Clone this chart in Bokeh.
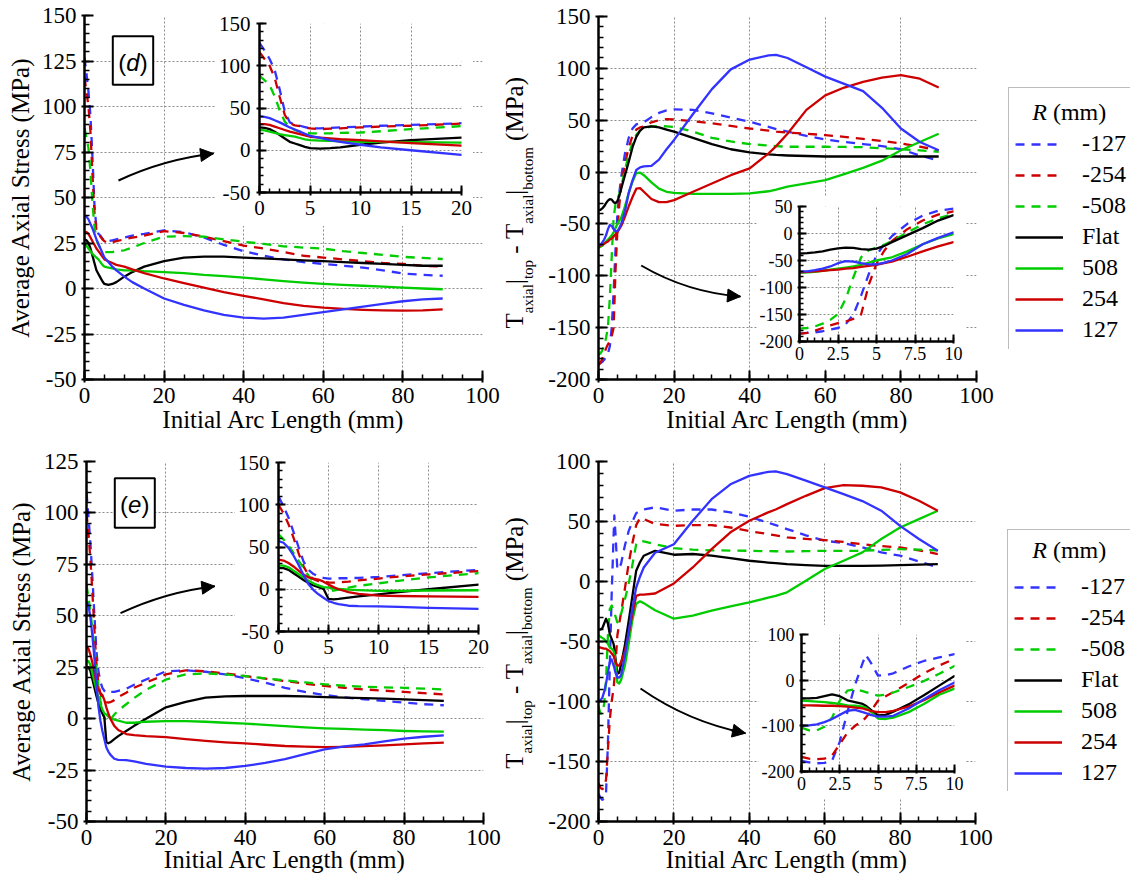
import math
from bokeh.plotting import figure
from bokeh.models import (Range1d, SingleIntervalTicker, CustomJSTickFormatter, Label,
                          BoxAnnotation, Arrow, NormalHead, Legend, LegendItem)
from bokeh.embed import file_html
from bokeh.resources import INLINE

# ---------------------------------------------------------------- data
SERIES = ["-127", "-254", "-508", "Flat", "508", "254", "127"]

# (d) average axial stress
X_D = [0, 0.5, 1, 1.5, 2, 2.5, 3, 3.5, 4, 4.5, 5, 6, 7, 8, 10, 12, 15, 20, 25, 30, 35, 40,
       45, 50, 55, 60, 65, 70, 75, 80, 85, 90]
D_M127 = [127, 118, 108, 95, 72, 46, 33, 30, 29, 27.5, 26, 26, 26.5, 27, 28, 29, 30, 32, 31, 28,
          24, 20.5, 18, 16, 14.5, 13.5, 12.5, 11.5, 10, 8.2, 7.5, 7]
D_M254 = [116, 108, 100, 86, 63, 42, 32, 29.5, 28.5, 27, 26, 25, 25.5, 26, 27, 28, 29, 31.5, 30.5,
          28.5, 26, 23.5, 22, 20, 18, 17, 16, 15, 14, 13.5, 12.5, 12]
D_M508 = [88, 83, 77, 64, 47, 34, 27, 24, 22, 21, 20, 20, 20, 20.5, 21, 22.5, 25, 28.5, 28.8, 28.5,
          27, 25.7, 24.5, 23.2, 22.5, 21.9, 20.5, 19.5, 18.5, 17.4, 16.8, 16.2]
D_FLAT = [27, 26.5, 25, 22, 18, 14, 10, 8, 6, 4, 2.5, 2, 2.5, 3.5, 6.5, 9, 12, 15, 17, 17.5, 17.5,
          17, 16.5, 16, 15.5, 15, 14.5, 14, 13.5, 13, 12.5, 12.5]
D_P508 = [24, 23.5, 22, 20.5, 19, 18, 17, 16, 14.5, 13, 12, 11.5, 11, 10.5, 10, 10, 9.5, 9, 8.5,
          7.5, 6.8, 6, 5, 4, 3.2, 2.5, 2, 1.5, 1, 0.5, 0, -0.4]
D_P254 = [31, 31, 30, 28, 26, 24, 22, 20.5, 19, 17.5, 16, 15, 14, 13, 12, 10.5, 8.5, 5.5, 3, 0.5,
          -2, -4, -6, -8, -9.5, -10.5, -11.2, -11.7, -12, -12.2, -12, -11.5]
D_P127 = [40, 39.5, 38, 35.5, 33, 30, 27, 24.5, 22, 19.5, 17, 14.5, 12, 10, 6.5, 3.5, 0, -5.5, -9,
          -12, -14.5, -16, -16.5, -16, -14.5, -13, -11.5, -10, -8.5, -7, -6, -5.5]

# (d) top-bottom difference
X_DR = [0, 0.5, 1, 1.5, 2, 2.5, 3, 3.5, 4, 4.5, 5, 5.5, 6, 7, 8, 9, 10, 11, 12, 14, 16, 18, 20,
        25, 30, 35, 40, 45, 47, 50, 55, 60, 65, 70, 75, 80, 85, 90]
DR_M127 = [-185, -184, -183, -181, -178, -175, -168, -150, -115, -75, -40, -20, -5, 18, 33, 42, 46,
           47, 48, 53, 57, 59.5, 60.5, 60, 56.5, 52.5, 48.5, 43.5, 41.5, 39, 35, 31.5, 29, 27,
           25, 22, 16, 11]
DR_M254 = [-186, -184, -180, -175, -170, -166, -163, -158, -150, -95, -56, -32, -14, 8, 24, 35, 41,
           43, 44, 48, 50, 51, 50.7, 49, 47, 44.5, 42, 40, 39, 38, 37, 35.6, 34, 32, 30, 27.6,
           24.5, 21]
DR_M508 = [-176, -175, -172, -167, -160, -149, -121, -81, -44, -31, -26, -21, -14, 2, 17, 28, 36,
           40, 42, 44, 44.5, 44, 43.6, 39, 33, 29.5, 27, 25.5, 25, 24.4, 24.4, 24.4, 24.2, 24, 23,
           22, 21, 19.6]
DR_FLAT = [-37, -36.5, -35, -33, -30, -27.5, -26, -26.5, -29, -30, -28, -23, -16, -3, 10, 24, 34,
           40, 43, 44, 43, 41, 39, 33, 27, 22, 19, 17, 16.5, 16, 15.5, 15, 15, 15, 15, 15, 15, 15]
DR_P508 = [-73, -72, -71, -69, -67, -65, -63, -61, -58, -54, -50, -47, -44, -33, -20, -9, -1, -0.5,
           -3, -10, -16, -19, -20, -21, -21, -21, -20.5, -18.5, -17, -14, -11, -7.7, -2, 4, 11,
           21, 29, 37]
DR_P254 = [-72, -71, -70, -69, -68, -67, -65, -64, -62, -60, -58, -55, -52, -43, -33, -24, -16,
           -15.5, -19, -26, -29, -29, -27, -19, -11, -3, 3.5, 18, 25, 37, 60, 74, 81.5, 87, 91,
           93.5, 90, 81.5]
DR_P127 = [-70, -70, -68, -65, -61, -55, -51, -52, -55, -57, -57, -54, -50, -38, -20, -8, 2, 4.5,
           5.5, 6, 12, 22, 31, 56, 80, 99, 108.5, 112.5, 113, 110, 101, 92, 85, 78, 62, 42, 29, 21]

# (e) average axial stress
X_E = [0, 0.5, 1, 1.5, 2, 2.5, 3, 3.5, 4, 4.5, 5, 5.5, 6, 7, 8, 10, 12, 15, 20, 25, 30, 35, 40,
       45, 50, 55, 60, 65, 70, 75, 80, 85, 90]
E_M127 = [110, 98, 85, 68, 50, 33, 23, 18, 15, 13.5, 12.5, 12.5, 13, 13, 13.5, 14.5, 16.5, 19, 23,
          23.5, 22.8, 21.5, 19.6, 17.5, 15, 13, 11.5, 10.3, 9.4, 8.6, 7.8, 7, 6.5]
E_M254 = [100, 90, 77, 61, 43, 27, 17, 12, 9.5, 8.5, 8, 7.8, 8, 9, 10.5, 12.6, 15, 17.5, 21.5,
          23.5, 23, 22, 20.7, 19.5, 18.3, 17, 15.9, 15, 14.2, 13.6, 13, 12.4, 11.8]
E_M508 = [65, 59, 52, 43, 34, 25, 16, 9, 4, 0.5, -1.5, -1.5, -0.5, 2, 4, 7, 10, 14, 19, 21.5, 22,
          21.5, 20.7, 19.6, 18.6, 17.6, 16.7, 16, 15.5, 15.2, 15, 14.6, 14.2]
E_FLAT = [25, 25, 23, 19, 15, 11, 7.5, 4.5, 2.5, 0.5, -11.5, -12, -11.5, -10, -8.5, -6, -3.5, 0,
          5.5, 8.2, 10.2, 10.8, 11, 11, 11, 10.8, 10.5, 10.2, 10, 9.7, 9.4, 9, 8.6]
E_P508 = [28, 28, 26, 22, 18, 14, 10, 7, 4.5, 2.5, 2, 1, 0.5, -0.5, -1, -2, -2, -1.5, -1.2, -1.2,
          -1.5, -2, -2.4, -3, -3.6, -4.2, -4.7, -5, -5.3, -5.6, -6, -6.2, -6.3]
E_P254 = [35, 34, 31, 27, 22, 17.5, 14, 12.5, 11.5, 9, 5.5, 2.5, 0, -3.5, -5.5, -7.5, -8, -8.5,
          -9, -10, -10.8, -11.5, -12, -12.7, -13.3, -13.6, -13.8, -13.7, -13.4, -13, -12.5, -12,
          -11.7]
E_P127 = [57, 55, 49, 40, 29, 17, 6, -1, -6, -10, -14, -16, -17.5, -19.5, -20, -20.2, -20.8, -22,
          -23.3, -24, -24.3, -24, -23, -21.5, -19.7, -17.3, -14.9, -13.5, -12.5, -11, -9.7, -8.8,
          -8.1]

# (e) top-bottom difference
X_ER = [0, 0.5, 1, 1.5, 2, 2.5, 3, 3.5, 4, 4.2, 4.5, 5, 5.5, 6, 7, 8, 9, 10, 11, 12, 15, 20, 25,
        30, 35, 40, 45, 47, 50, 55, 60, 65, 70, 75, 80, 85, 90]
ER_M127 = [-177, -180, -182, -181, -176, -135, -70, -10, 38, 55, 40, 10, 11, 15, 30, 42, 50, 57,
           59, 60, 61.8, 59, 60, 60, 57.6, 54, 49, 47, 43.7, 38.5, 34, 32, 28.4, 24.3, 21.5,
           16.7, 11.7]
ER_M254 = [-168, -172, -173, -172, -165, -140, -115, -100, -89, -82, -70, -45, -35, -26, -6, 15,
           32, 47, 53, 52, 48, 46.4, 47, 47, 45, 42, 39.5, 38.5, 36.7, 35.5, 34.5, 33, 31, 29.5,
           28.4, 26, 22.9]
ER_M508 = [-104, -110, -110, -102, -82, -45, -23, -20, -24, -26, -29, -34, -32, -27, -15, -2, 14,
           31, 34, 33.5, 31, 27.8, 26.5, 26, 25.8, 25.6, 25.3, 25.2, 25, 25.3, 25.6, 25.6, 25.6,
           26.3, 27, 26.5, 26]
ER_FLAT = [-40, -40, -39, -35, -31, -35, -44, -48, -52, -56, -64, -77, -76, -69, -53, -33, -12, 9,
           16, 21.5, 25.6, 22.3, 22.9, 21.5, 19.5, 17.3, 15.8, 15.3, 14.5, 13.7, 13, 13, 13, 13.3,
           13.7, 14, 14.5]
ER_P508 = [-45, -46, -47, -48, -50, -52, -55, -56, -58, -60, -68, -84, -85, -82, -70, -52, -32,
           -18.5, -16.5, -18, -24, -31, -28.4, -24.3, -20.8, -17.4, -13.5, -12, -9, 0.6, 10.4,
           17.3, 24.3, 35.4, 45, 52, 59]
ER_P254 = [-55, -55, -55.5, -56, -56, -57, -58, -60, -62, -64, -67, -70, -70, -67, -58, -44, -27,
           -12, -11, -11, -10, -1.6, 11.7, 27, 41, 50.6, 57.6, 60, 64.5, 71.4, 77.8, 80.3, 79.8,
           78.4, 74.3, 67.3, 59]
ER_P127 = [-100, -99, -97, -92, -85, -76, -67, -65, -70, -72, -76, -80, -80, -78, -62, -42, -22,
           -5, 4, 11.7, 24, 31, 50.6, 68.6, 81, 88, 91.4, 91.7, 89.5, 84, 78.4, 72.8, 67, 59,
           46.4, 35.4, 25.6]

X_LABEL = "Initial Arc Length (mm)"
Y_LABEL = "Average Axial Stress (MPa)"

# ---------------------------------------------------------------- styling / layout
SERIF = "Liberation Serif"
SANS = "Liberation Sans"
COLORS = ["#3333ff", "#cc0000", "#00cc00", "#000000", "#00cc00", "#cc0000", "#3333ff"]
DASHES = ["9 7", "9 7", "9 7", "solid", "solid", "solid", "solid"]
PAGE_H = 877
BASE_SHIFT = 0.4   # em; labels render this much below the requested alphabetic baseline

SPECS = {
    "d":   dict(frame=(84, 15, 398, 364), xr=(0, 100), yr=(-50, 150), xt=20, yt=25, xm=4, ym=5),
    "dr":  dict(frame=(598, 16, 378, 363), xr=(0, 100), yr=(-200, 150), xt=20, yt=50, xm=4, ym=5),
    "e":   dict(frame=(86, 461, 397, 360), xr=(0, 100), yr=(-50, 125), xt=20, yt=25, xm=4, ym=5),
    "er":  dict(frame=(598, 461, 377, 360), xr=(0, 100), yr=(-200, 100), xt=20, yt=50, xm=4, ym=5),
    "di":  dict(frame=(259, 23, 202, 169), xr=(0, 20), yr=(-50, 150), xt=5, yt=50, xm=5, ym=5),
    "dri": dict(frame=(798, 206, 155, 135), xr=(0, 10), yr=(-200, 50), xt=2.5, yt=50, xm=5, ym=5),
    "ei":  dict(frame=(278, 462, 200, 169), xr=(0, 20), yr=(-50, 150), xt=5, yt=50, xm=5, ym=5),
    "eri": dict(frame=(800, 634, 154, 137), xr=(0, 10), yr=(-200, 100), xt=2.5, yt=100, xm=5, ym=5),
}


def to_data(spec, rx, ry):
    fl, ft, fw, fh = spec["frame"]
    x0, x1 = spec["xr"]
    y0, y1 = spec["yr"]
    return x0 + (rx - fl) / fw * (x1 - x0), y0 + (ft + fh - ry) / fh * (y1 - y0)


def place(p, left, top):
    p.styles = {"position": "absolute", "left": f"{left}px", "top": f"{top}px"}


def text_at(p, rx, ry, text, size, font=SERIF, style="normal", rotated=False, align="left",
            spec=None):
    """Put a text whose alphabetic baseline starts at page pixel (rx, ry)."""
    sh = BASE_SHIFT * size
    if rotated:
        rx -= sh
    else:
        ry -= sh
    if spec is None:
        x, y = rx, PAGE_H - ry
    else:
        x, y = to_data(spec, rx, ry)
    p.add_layout(Label(x=x, y=y, text=text, text_font=font, text_font_size=f"{size}px",
                       text_font_style=style, text_color="black", text_align=align,
                       text_baseline="alphabetic", angle=math.pi / 2 if rotated else 0))


def make_panel(spec, borders, tick_px, inset, xlabel=None, ylabel=None, ylab_standoff=5,
               x_standoff=5):
    fl, ft, fw, fh = spec["frame"]
    bl, bt, br, bb = borders
    p = figure(width=bl + fw + br, height=bt + fh + bb,
               x_range=Range1d(*spec["xr"]), y_range=Range1d(*spec["yr"]),
               output_backend="svg", toolbar_location=None, title=None,
               min_border_left=bl, min_border_right=br, min_border_top=bt, min_border_bottom=bb)
    place(p, fl - bl, ft - bt)
    p.outline_line_color = None
    p.background_fill_color = "white"
    p.border_fill_color = "white" if inset else None
    fmt = CustomJSTickFormatter(code="return String(tick);")
    tick_out = 2 if tick_px < 20 else 3
    for ax, grid, step, nm, is_x in ((p.xaxis[0], p.xgrid[0], spec["xt"], spec["xm"], True),
                                      (p.yaxis[0], p.ygrid[0], spec["yt"], spec["ym"], False)):
        t = SingleIntervalTicker(interval=step, num_minor_ticks=nm)
        ax.ticker = t
        grid.ticker = t
        ax.formatter = fmt
        ax.axis_line_width = 2.5
        ax.axis_line_color = "black"
        ax.major_tick_in = 7 if inset else 9
        ax.major_tick_out = tick_out
        ax.minor_tick_in = 4 if inset else 5
        ax.minor_tick_out = 0
        ax.major_tick_line_width = 2
        ax.minor_tick_line_width = 1.5
        ax.major_tick_line_color = "black"
        ax.minor_tick_line_color = "black"
        ax.major_label_text_font = SERIF
        ax.major_label_text_font_size = f"{tick_px}px"
        ax.major_label_text_color = "black"
        ax.major_label_standoff = x_standoff if is_x else (6 if (inset and tick_px > 20) else 5)
        ax.axis_label_text_font = SERIF
        ax.axis_label_text_font_size = "25px"
        ax.axis_label_text_font_style = "normal"
        ax.axis_label_text_color = "black"
        grid.grid_line_color = "#8a8a8a"
        grid.grid_line_dash = "2 2"
        grid.grid_line_width = 1
    if xlabel:
        p.xaxis[0].axis_label = xlabel
        p.xaxis[0].axis_label_standoff = 0
    if ylabel:
        p.yaxis[0].axis_label = ylabel
        p.yaxis[0].axis_label_standoff = ylab_standoff
    return p


def overlay(left, top, width, height):
    """Transparent, axis-less figure whose data units are page pixels (y measured upward)."""
    p = figure(width=width, height=height,
               x_range=Range1d(left, left + width),
               y_range=Range1d(PAGE_H - (top + height), PAGE_H - top),
               output_backend="svg", toolbar_location=None, title=None,
               min_border_left=0, min_border_right=0, min_border_top=0, min_border_bottom=0,
               x_axis_type=None, y_axis_type=None)
    place(p, left, top)
    p.outline_line_color = None
    p.background_fill_color = None
    p.border_fill_color = None
    return p


def add_curves(p, x, ys):
    for y, c, d in zip(ys, COLORS, DASHES):
        p.line(x, y, line_color=c, line_width=2.3, line_dash=d, line_join="round")


def curved_arrow(p, spec, p0, p2, bulge):
    (x0, y0), (x2, y2) = p0, p2
    dx, dy = x2 - x0, y2 - y0
    L = math.hypot(dx, dy)
    cx = (x0 + x2) / 2 + bulge * (-dy / L)
    cy = (y0 + y2) / 2 + bulge * (dx / L)
    a = to_data(spec, x0, y0)
    b = to_data(spec, x2, y2)
    c = to_data(spec, cx, cy)
    p.quadratic(x0=[a[0]], y0=[a[1]], x1=[b[0]], y1=[b[1]], cx=[c[0]], cy=[c[1]],
                line_color="black", line_width=2)
    s = to_data(spec, x2 - 0.25 * (x2 - cx), y2 - 0.25 * (y2 - cy))
    p.add_layout(Arrow(end=NormalHead(size=13, fill_color="black", line_color="black"),
                       x_start=s[0], y_start=s[1], x_end=b[0], y_end=b[1],
                       line_color="black", line_width=2))


def panel_tag(p, spec, box, letter, start_rx, base_ry):
    l, t, r, b = box
    x0, y0 = to_data(spec, l, b)
    x1, y1 = to_data(spec, r, t)
    p.add_layout(BoxAnnotation(left=x0, right=x1, bottom=y0, top=y1, fill_color="white",
                               fill_alpha=1, line_color="black", line_alpha=1, line_width=2))
    rx = start_rx
    for txt, style, w in (("(", "normal", 0.333), (letter, "italic", 0.556), (")", "normal", 0.333)):
        text_at(p, rx, base_ry, txt, 24, font=SANS, style=style, spec=spec)
        rx += w * 24


WIDTHS = {"T": 0.611, "a": 0.444, "x": 0.5, "i": 0.278, "l": 0.278, "|": 0.2, "t": 0.278,
          "o": 0.5, "p": 0.5, "b": 0.5, "m": 0.778, "-": 0.333, "(": 0.333, "M": 0.889,
          "P": 0.556, ")": 0.333, " ": 0.25}
DIFF_PIECES = [("T", 25, 0), ("axial", 15, 1), ("|", 25, 0), ("top", 15, 1), (" ", 25, 0),
               ("-", 25, 0), (" ", 25, 0), ("T", 25, 0), ("axial", 15, 1), ("|", 25, 0),
               ("bottom", 15, 1), (" ", 25, 0), ("(MPa)", 25, 0)]


def diff_label(start_ry, base_rx, top, bottom):
    p = overlay(492, top, 58, bottom - top)
    ry = start_ry
    for txt, size, sub in DIFF_PIECES:
        w = sum(WIDTHS.get(ch, 0.5) for ch in txt) * size
        if txt.strip():
            text_at(p, base_rx + (8.7 if sub else 0), ry, txt, size, rotated=True)
        ry -= w
    return p


def make_legend(box_left, box_top, height, spacing, standoff):
    left = box_left - 2
    top = box_top - 2
    p = overlay(left, top, 1130 - left, height)
    items = []
    for name, c, d in zip(SERIES, COLORS, DASHES):
        r = p.line(x=[float("nan")], y=[float("nan")], line_color=c, line_width=2.3,
                   line_dash=d)
        items.append(LegendItem(label=name, renderers=[r]))
    lg = Legend(items=items, location="top_left", margin=2, padding=6, spacing=spacing,
                glyph_width=48, glyph_height=24, label_height=24, label_standoff=19,
                label_text_font=SERIF, label_text_font_size="24px", label_text_color="black",
                title="\u00a0", title_text_font_size="24px", title_standoff=standoff,
                border_line_color="#7a7a7a", border_line_width=1.5,
                background_fill_color="white", background_fill_alpha=1)
    p.add_layout(lg)
    return p


def legend_title(title_center_ry):
    p = overlay(1020, int(title_center_ry - 22), 100, 40)
    base = title_center_ry + 8
    text_at(p, 1031.7, base, "R", 24, style="italic")
    text_at(p, 1052.4, base, "(mm)", 24)
    return p


# ---------------------------------------------------------------- panels
pd = make_panel(SPECS["d"], (90, 15, 22, 70), 23, False, X_LABEL, Y_LABEL, 5)
add_curves(pd, X_D, [D_M127, D_M254, D_M508, D_FLAT, D_P508, D_P254, D_P127])
curved_arrow(pd, SPECS["d"], (118, 180), (213, 153), -8)
panel_tag(pd, SPECS["d"], (112.3, 35.7, 152.7, 84.3), "d", 117.8, 72)

pdr = make_panel(SPECS["dr"], (100, 16, 22, 70), 23, False, X_LABEL)
add_curves(pdr, X_DR, [DR_M127, DR_M254, DR_M508, DR_FLAT, DR_P508, DR_P254, DR_P127])
curved_arrow(pdr, SPECS["dr"], (640.7, 265), (740, 296), 12)

pe = make_panel(SPECS["e"], (92, 14, 22, 56), 23, False, None, Y_LABEL, 6)
add_curves(pe, X_E, [E_M127, E_M254, E_M508, E_FLAT, E_P508, E_P254, E_P127])
curved_arrow(pe, SPECS["e"], (120, 612.7), (214.3, 585.7), -8)
panel_tag(pe, SPECS["e"], (114.3, 477.7, 154.3, 527.3), "e", 119.6, 514)

per = make_panel(SPECS["er"], (100, 14, 22, 56), 23, False)
add_curves(per, X_ER, [ER_M127, ER_M254, ER_M508, ER_FLAT, ER_P508, ER_P254, ER_P127])
curved_arrow(per, SPECS["er"], (640, 688), (745, 732.7), 12)

pdi = make_panel(SPECS["di"], (44, 12, 12, 34), 21, True, x_standoff=5)
add_curves(pdi, X_D, [D_M127, D_M254, D_M508, D_FLAT, D_P508, D_P254, D_P127])
pdri = make_panel(SPECS["dri"], (42, 10, 12, 28), 18, True, x_standoff=3)
add_curves(pdri, X_DR, [DR_M127, DR_M254, DR_M508, DR_FLAT, DR_P508, DR_P254, DR_P127])
pei = make_panel(SPECS["ei"], (44, 12, 12, 34), 21, True, x_standoff=5)
add_curves(pei, X_E, [E_M127, E_M254, E_M508, E_FLAT, E_P508, E_P254, E_P127])
peri = make_panel(SPECS["eri"], (42, 10, 12, 28), 18, True, x_standoff=3)
add_curves(peri, X_ER, [ER_M127, ER_M254, ER_M508, ER_FLAT, ER_P508, ER_P254, ER_P127])

# x-axis titles of the lower row
xl = overlay(0, 830, 1000, 47)
for spec in (SPECS["e"], SPECS["er"]):
    fl, ft, fw, fh = spec["frame"]
    text_at(xl, fl + fw / 2, 869, X_LABEL, 25, align="center")

lab_dr = diff_label(328, 524.3, 60, 345)
lab_er = diff_label(768.3, 524, 505, 785)

leg1 = make_legend(1008, 87, 264, 4, 8)
leg2 = make_legend(1007, 529, 264, 4, 9)
tit1 = legend_title(113)
tit2 = legend_title(551)

roots = [pd, pdr, pe, per, pdi, pdri, pei, peri, xl, lab_dr, lab_er, leg1, leg2, tit1, tit2]
open("out.html", "w").write(file_html(roots, INLINE))
